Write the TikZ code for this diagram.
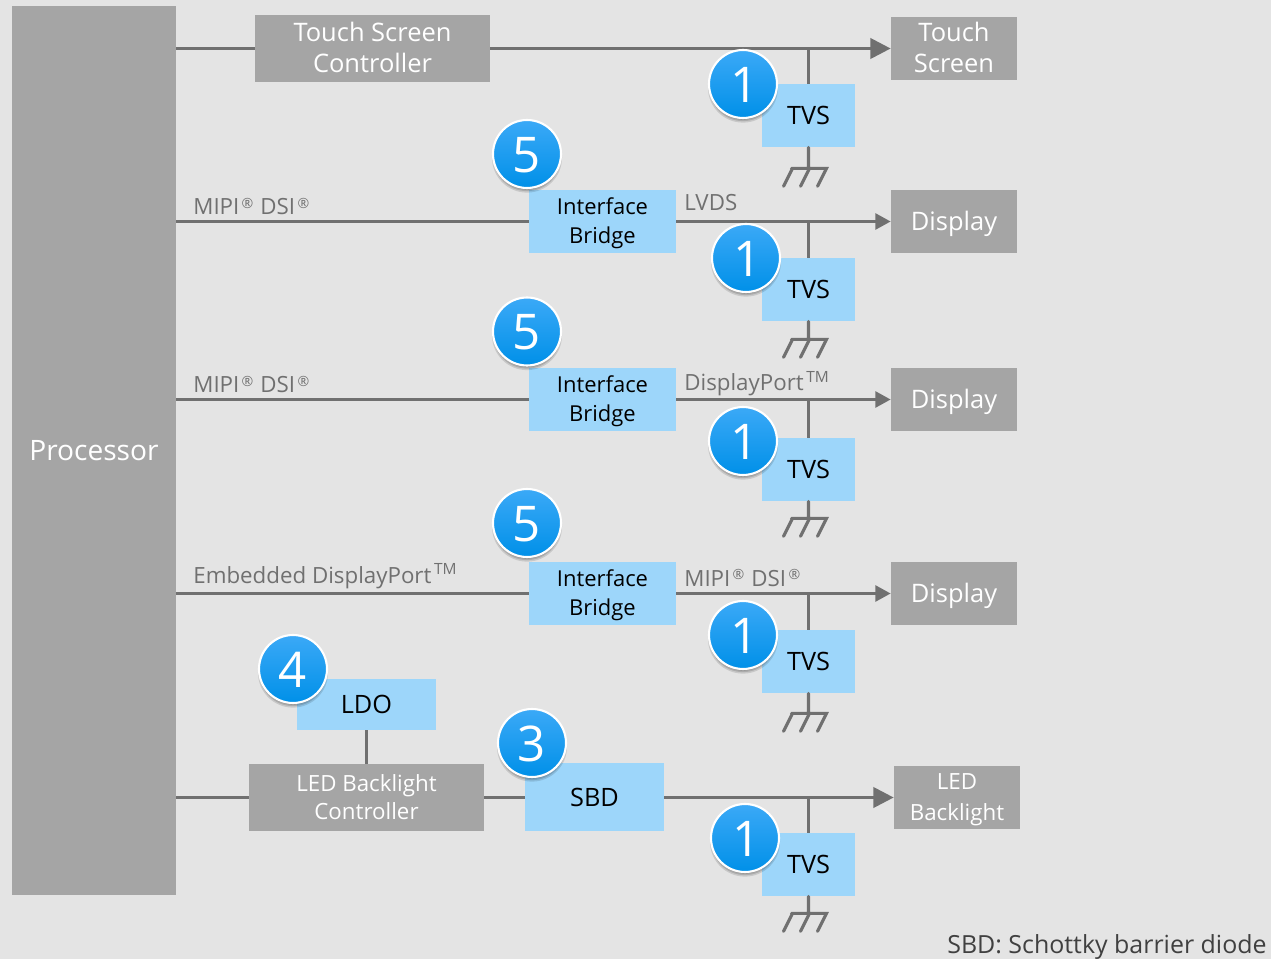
\documentclass[tikz,border=0pt]{standalone}
\usepackage{fontspec}
\setmainfont{Open Sans}
\usetikzlibrary{arrows.meta,calc,shadows}

\definecolor{pagegray}{HTML}{E4E4E4}
\definecolor{boxgray}{HTML}{A5A5A5}
\definecolor{linegray}{HTML}{707070}
\definecolor{boxblue}{HTML}{9DD6FA}
\definecolor{bubbletop}{HTML}{3BA9F7}
\definecolor{bubblebot}{HTML}{0090E8}

\tikzset{
    wire/.style={draw=linegray, line width=1.75pt},
    bigtip/.style={wire, -{Triangle[length=11.5pt, width=11.5pt]}},
    smalltip/.style={wire, -{Triangle[length=8.7pt, width=9pt]}},
    greybox/.style={fill=boxgray, text=white, align=center, inner sep=0pt, font=\fontsize{14.5}{17.6}\selectfont, minimum width=2.52cm, minimum height=1.26cm},
    bluebox/.style={fill=boxblue, text=black, align=center, inner sep=0pt, font=\fontsize{12.5}{16.5}\selectfont, minimum width=2.94cm, minimum height=1.26cm, text depth=1pt},
    tvsbox/.style={fill=boxblue, text=black, inner sep=0pt, font=\fontsize{14.4}{18}\selectfont, minimum width=1.86cm, minimum height=1.26cm},
    softshadow/.style={general shadow={shadow scale=1.03, shadow yshift=-.07cm, opacity=.12, fill=black},
        general shadow={shadow scale=.99, shadow yshift=-.07cm, opacity=.14, fill=black},
        general shadow={shadow scale=.95, shadow yshift=-.07cm, opacity=.16, fill=black}},
    bubble/.style={circle, softshadow, draw=white, line width=1.2pt, minimum size=1.36cm, inner sep=0pt, top color=bubbletop, bottom color=bubblebot, text=white, font=\fontsize{28}{30}\selectfont, text height=20.6pt, text depth=0pt},
    buslabel/.style={anchor=base west, inner sep=0pt, text=linegray, font=\fontsize{12.7}{15}\selectfont},
}

% small marks in the bus labels
\newcommand{\regmark}{\raisebox{.55ex}{\fontsize{8}{8}\selectfont\,®\hspace{4pt}}}
\newcommand{\tmmark}{\raisebox{.72ex}{\fontsize{8.8}{9}\selectfont\,TM}}

% ground symbol under a TVS box, #2 is the stem length
\newcommand{\earth}[2]{
    \draw[wire, line cap=round] (#1.south) -- ++(0,#2) ++(-17,0) -- ++(35,0) -- ++(-9,18)
        ++(-8,-18) -- ++(-9,18) ++(-8,-18) -- ++(-9,18);
}

\begin{document}
\begin{tikzpicture}[x=.02cm, y=-.02cm]
    \useasboundingbox (0,0) rectangle (1271,959);
    \fill[pagegray] (0,0) rectangle (1271,959);

    \node[greybox, minimum width=3.28cm, minimum height=17.78cm, font=\fontsize{16}{20}\selectfont] (proc) at (94,450.5) {Processor};

    % touch screen
    \node[greybox, minimum width=4.7cm, minimum height=1.34cm, text depth=1.7pt] (tsc) at (372.5,48.5) {Touch Screen\\Controller};
    \node[greybox, minimum height=1.26cm, text depth=1.7pt] (ts) at (954,48.5) {Touch\\Screen};
    \node[tvsbox] (tvsa) at (808.5,115.5) {TVS};
    \coordinate (ja) at (tvsa.north |- ts.west);
    \coordinate (pa) at (proc.east |- ts.west);
    \draw[wire] (pa) -- (tsc.west |- pa);
    \draw[bigtip] (tsc.east |- pa) -- (ts.west);
    \draw[wire] (ja) -- (tvsa.north);
    \earth{tvsa}{21}

    % display over LVDS
    \node[bluebox] (ifa) at (602.5,221.5) {Interface\\Bridge};
    \node[greybox, text depth=.8pt] (dispa) at (954,221.5) {Display};
    \node[tvsbox] (tvsb) at (808.5,289.5) {TVS};
    \coordinate (jb) at (tvsb.north |- dispa.west);
    \draw[wire] (proc.east |- ifa.west) -- (ifa.west);
    \draw[smalltip] (ifa.east) -- (dispa.west);
    \draw[wire] (jb) -- (tvsb.north);
    \earth{tvsb}{18}
    \node[buslabel] (laba) at (193,215) {MIPI\regmark DSI\regmark};
    \node[buslabel] (labb) at (684,211) {LVDS};

    % display over DisplayPort
    \node[bluebox] (ifb) at (602.5,399.5) {Interface\\Bridge};
    \node[greybox, text depth=.8pt] (dispb) at (954,399.5) {Display};
    \node[tvsbox] (tvsc) at (808.5,469.5) {TVS};
    \coordinate (jc) at (tvsc.north |- dispb.west);
    \draw[wire] (proc.east |- ifb.west) -- (ifb.west);
    \draw[smalltip] (ifb.east) -- (dispb.west);
    \draw[wire] (jc) -- (tvsc.north);
    \earth{tvsc}{17}
    \node[buslabel] (labc) at (193,393) {MIPI\regmark DSI\regmark};
    \node[buslabel] (labd) at (684,391) {DisplayPort\tmmark};

    % display behind embedded DisplayPort
    \node[bluebox] (ifc) at (602.5,593.5) {Interface\\Bridge};
    \node[greybox, text depth=.8pt] (dispc) at (954,593.5) {Display};
    \node[tvsbox] (tvsd) at (808.5,661.5) {TVS};
    \coordinate (jd) at (tvsd.north |- dispc.west);
    \draw[wire] (proc.east |- ifc.west) -- (ifc.west);
    \draw[smalltip] (ifc.east) -- (dispc.west);
    \draw[wire] (jd) -- (tvsd.north);
    \earth{tvsd}{20}
    \node[buslabel] (labe) at (193,583) {Embedded DisplayPort\tmmark};
    \node[buslabel] (labf) at (684,586) {MIPI\regmark DSI\regmark};

    % backlight
    \node[tvsbox, minimum width=2.78cm, minimum height=1.02cm] (ldo) at (366.5,704.5) {LDO};
    \node[greybox, minimum width=4.7cm, minimum height=1.34cm, font=\fontsize{12.7}{16}\selectfont] (ledc) at (366.5,797.5) {LED Backlight\\Controller};
    \node[tvsbox, minimum width=2.78cm, minimum height=1.36cm] (sbd) at (594.5,797) {SBD};
    \node[greybox, font=\fontsize{12.7}{17.6}\selectfont, text depth=.2pt] (led) at (957,797.5) {LED\\Backlight};
    \node[tvsbox] (tvse) at (808.5,864.5) {TVS};
    \coordinate (je) at (tvse.north |- led.west);
    \draw[wire] (ldo.south) -- (ledc.north -| ldo.south);
    \draw[wire] (proc.east |- ledc.west) -- (ledc.west);
    \draw[wire] (ledc.east) -- (sbd.west |- ledc.east);
    \draw[bigtip] (sbd.east |- led.west) -- (led.west);
    \draw[wire] (je) -- (tvse.north);
    \earth{tvse}{17}

    % numbered bubbles
    \node[bubble] (oa) at (743,84) {\hspace{1.5pt}1};
    \node[bubble] (ob) at (746,258) {\hspace{1.5pt}1};
    \node[bubble] (oc) at (743,441) {\hspace{1.5pt}1};
    \node[bubble] (od) at (743,635) {\hspace{1.5pt}1};
    \node[bubble] (oe) at (745,838) {\hspace{1.5pt}1};
    \node[bubble] (fa) at (527,154) {5};
    \node[bubble] (fb) at (527,331.5) {5};
    \node[bubble] (fc) at (527,523) {5};
    \node[bubble] (four) at (293,669) {4};
    \node[bubble] (three) at (532,743) {3};

    \node[anchor=base east, inner sep=0pt, text=black!75, font=\fontsize{14.2}{17}\selectfont] (note) at (1267,953) {SBD: Schottky barrier diode};
\end{tikzpicture}
\end{document}
